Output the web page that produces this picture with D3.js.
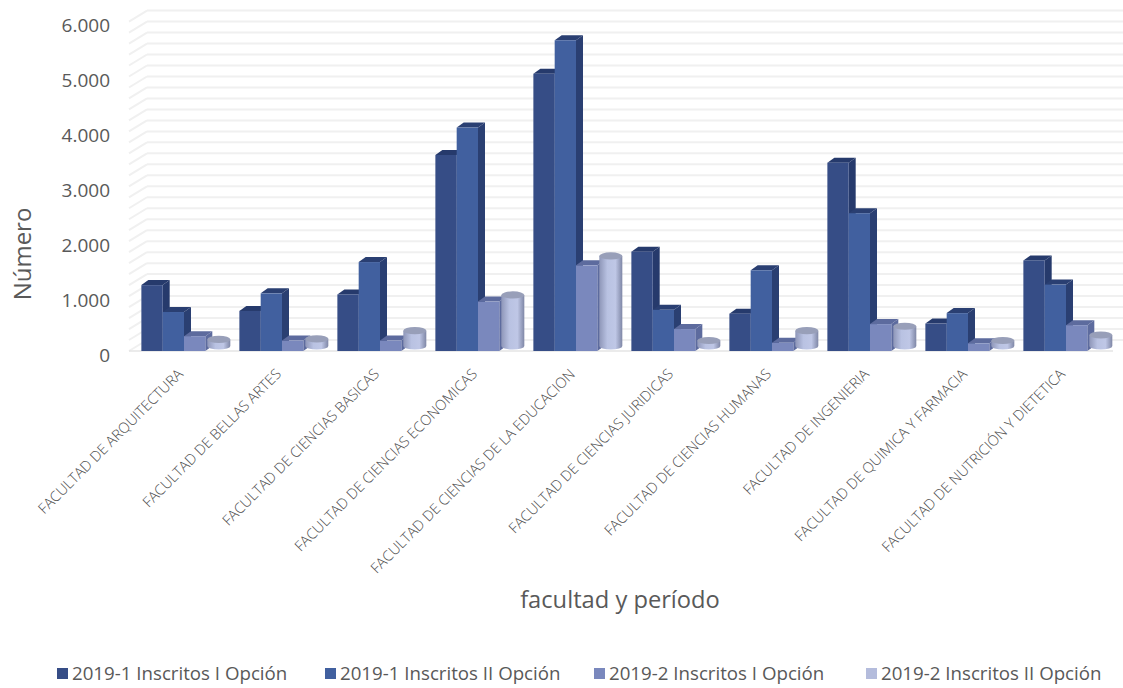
<!DOCTYPE html>
<html lang="es">
<head>
<meta charset="UTF-8">
<title>Inscritos por facultad</title>
<script src="https://d3js.org/d3.v7.min.js"></script>
<style>
    html, body { margin: 0; padding: 0; background: white; }
    svg { display: block; }
    text { font-family: "Open Sans", sans-serif; fill: #595959; }
</style>
</head>
<body>
<script>
// Values
const categories = [
    "FACULTAD DE ARQUITECTURA", "FACULTAD DE BELLAS ARTES", "FACULTAD DE CIENCIAS BASICAS",
    "FACULTAD DE CIENCIAS ECONOMICAS", "FACULTAD DE CIENCIAS DE LA EDUCACION", "FACULTAD DE CIENCIAS JURIDICAS",
    "FACULTAD DE CIENCIAS HUMANAS", "FACULTAD DE INGENIERIA", "FACULTAD DE QUIMICA Y FARMACIA",
    "FACULTAD DE NUTRICIÓN Y DIETETICA"
];
const seriesNames = ["2019-1 Inscritos I Opción", "2019-1 Inscritos II Opción", "2019-2 Inscritos I Opción", "2019-2 Inscritos II Opción"];
const inscritos1I = [1200, 730, 1030, 3570, 5050, 1810, 680, 3430, 500, 1650];
const inscritos1II = [710, 1050, 1620, 4070, 5660, 750, 1470, 2510, 690, 1210];
const inscritos2I = [270, 190, 190, 900, 1560, 400, 150, 490, 140, 470];
const inscritos2II = [120, 130, 280, 930, 1640, 100, 280, 360, 100, 200];
const yTicks = [0, 1000, 2000, 3000, 4000, 5000, 6000];
const gridTicks = d3.range(0, 6001, 200);

const width = 1123, height = 688;
const values = [inscritos1I, inscritos1II, inscritos2I, inscritos2II];
const fronts = ["#364d86", "#41609f", "#7a88bd"];
const darks = ["#263a6c", "#2a3f72", "#5d6b9e"];
const legendColors = ["#364d86", "#41609f", "#7a88bd", "#b4bcdc"];
const legendX = [57, 325, 594, 866];

const svg = d3.select("body").append("svg").attr("width", width).attr("height", height);

const defs = svg.append("defs");
const cyl = defs.append("linearGradient").attr("id", "cyl");
cyl.append("stop").attr("offset", "0%").attr("stop-color", "#8e96b8");
cyl.append("stop").attr("offset", "35%").attr("stop-color", "#b9c2e2");
cyl.append("stop").attr("offset", "70%").attr("stop-color", "#bfc7e6");
cyl.append("stop").attr("offset", "100%").attr("stop-color", "#7f87a6");

const y = d3.scaleLinear().domain([0, 6000]).range([351, 21.6]);
const x = d3.scaleBand().domain(categories).range([135, 1115]).paddingInner(0.13).paddingOuter(0.065);
const xs = d3.scaleBand().domain(d3.range(4)).range([0, x.bandwidth()]);

// back wall, side wall and floor
const wallDx = 18, wallDy = 11;
const grid = svg.append("g").attr("fill", "none").attr("stroke", "#f0f0f0").attr("stroke-width", 2);
grid.selectAll("line.h").data(gridTicks).join("line").attr("class", "h")
    .attr("x1", 129 + wallDx).attr("x2", 1123)
    .attr("y1", d => y(d) - wallDy).attr("y2", d => y(d) - wallDy);
grid.selectAll("line.d").data(gridTicks).join("line").attr("class", "d")
    .attr("x1", 129).attr("x2", 129 + wallDx)
    .attr("y1", d => y(d)).attr("y2", d => y(d) - wallDy);
svg.append("line").attr("x1", 129).attr("x2", 1113).attr("y1", y(0)).attr("y2", y(0))
    .attr("stroke", "#e4e4e4").attr("stroke-width", 1.5);

// bars, one group per facultad so each bar overlaps the one to its left
const dx = 7, dy = 5;
const groups = svg.selectAll("g.cat").data(categories).join("g").attr("class", "cat")
    .attr("transform", d => `translate(${x(d)},0)`);

groups.each(function (cat, i) {
    const g = d3.select(this);
    [0, 1, 2].forEach(s => {
        const left = xs(s), w = xs.bandwidth(), top = y(values[s][i]), base = y(0);
        g.append("path").attr("fill", darks[s])
            .attr("d", `M${left},${top}l${dx},${-dy}h${w}l${-dx},${dy}Z`);
        g.append("path").attr("fill", darks[s])
            .attr("d", `M${left + w},${top}l${dx},${-dy}V${base - dy}l${-dx},${dy}Z`);
        g.append("rect").attr("x", left).attr("y", top).attr("width", w).attr("height", base - top)
            .attr("fill", fronts[s]);
    });
    // last series is a cylinder
    const rx = 11.5, ry = 3.6;
    const cx = xs(3) + 13.5, base = y(0) - 5, top = base - (y(0) - y(values[3][i]));
    g.append("path").attr("fill", "url(#cyl)")
        .attr("d", `M${cx - rx},${top}V${base}A${rx},${ry} 0 0 0 ${cx + rx},${base}V${top}Z`);
    g.append("ellipse").attr("cx", cx).attr("cy", top).attr("rx", rx).attr("ry", ry)
        .attr("fill", "#989fb9");
});

// value axis
const yAxis = svg.append("g").attr("transform", "translate(110,4)")
    .call(d3.axisLeft(y).tickValues(yTicks).tickSize(0).tickPadding(0)
        .tickFormat(d => d3.format(",")(d).replace(",", ".")));
yAxis.select(".domain").remove();
yAxis.selectAll("text").style("font-size", "19px").style("font-family", '"Open Sans", sans-serif').attr("fill", "#595959");

// rotated category labels
svg.selectAll("text.cat").data(categories).join("text").attr("class", "cat")
    .attr("text-anchor", "end")
    .attr("transform", d => `translate(${x(d) + x.bandwidth() / 2},375) rotate(-45)`)
    .style("font-size", "14.5px").style("font-weight", 300).style("fill", "#4d4d4d")
    .text(d => d);

// axis titles
svg.append("text").attr("transform", "translate(31,254) rotate(-90)").attr("text-anchor", "middle")
    .style("font-size", "24px").text("Número");
svg.append("text").attr("x", 620).attr("y", 608).attr("text-anchor", "middle")
    .style("font-size", "23.7px").text("facultad y período");

// legend
const legend = svg.selectAll("g.legend").data(seriesNames).join("g").attr("class", "legend")
    .attr("transform", (d, i) => `translate(${legendX[i]},668)`);
legend.append("rect").attr("width", 11).attr("height", 11).attr("fill", (d, i) => legendColors[i]);
legend.append("text").attr("x", 15).attr("y", 12).style("font-size", "18.7px").text(d => d);
</script>
</body>
</html>
